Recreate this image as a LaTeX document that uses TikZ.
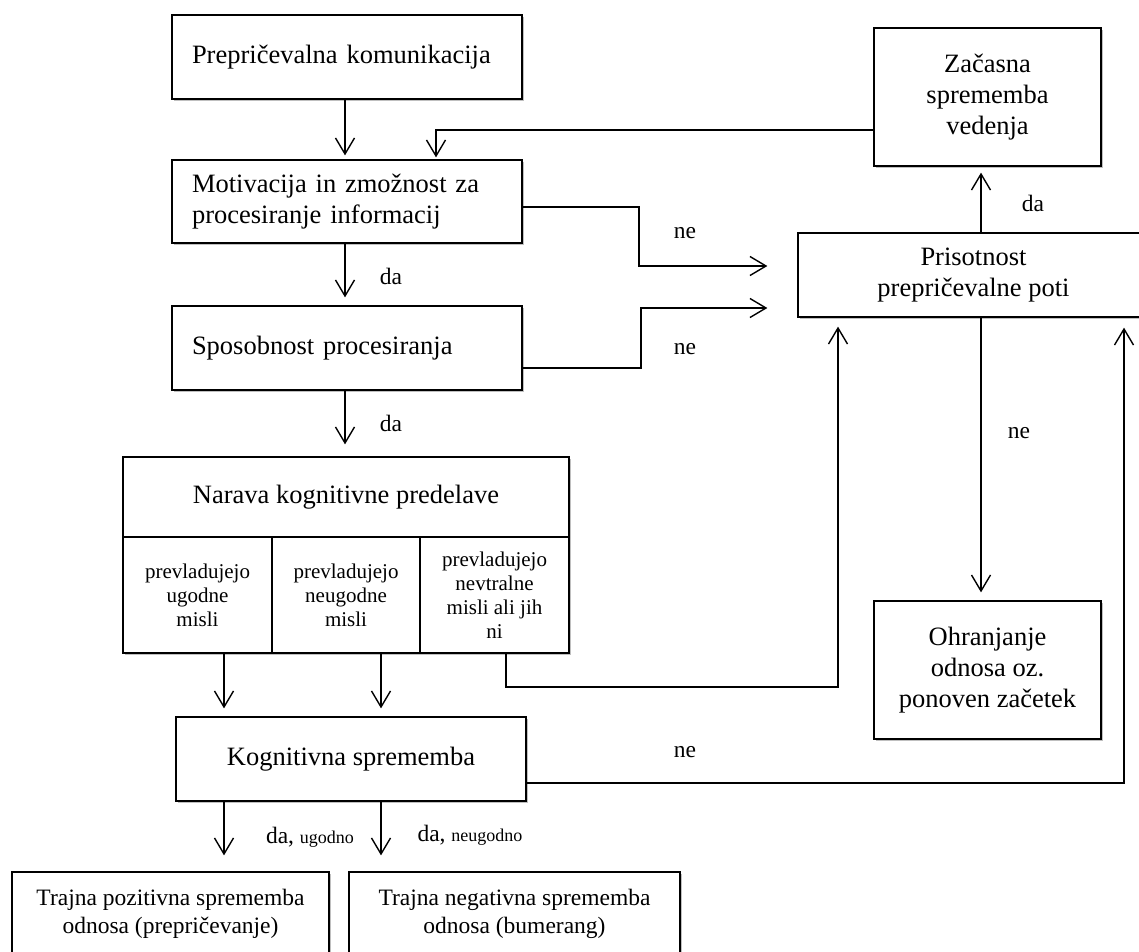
\documentclass[tikz,border=0pt]{standalone}
\usepackage{fontspec}
\setmainfont{Liberation Serif}
\usetikzlibrary{arrows.meta,shadows}
\begin{document}
\begin{tikzpicture}[x=1pt,y=-1pt,
  box/.style={draw, line width=1.3pt, fill=white, inner sep=0pt,
    drop shadow={shadow xshift=1.5pt, shadow yshift=-1.5pt, opacity=0.25, fill=black}},
  fmain/.style={font=\fontsize{26.5}{31}\selectfont},
  fbot/.style={font=\fontsize{23.5}{27.5}\selectfont},
  fcell/.style={font=\fontsize{21}{24}\selectfont},
  lbl/.style={font=\fontsize{23.5}{26}\selectfont, inner sep=0pt},
  leftbox/.style={box, fmain, align=left, text width=310pt, inner xsep=20pt, minimum width=350pt},
  arr/.style={line width=1.4pt, -{Straight Barb[length=16pt,width=19pt,line width=1.4pt]}},
  line/.style={line width=1.4pt}
]
\path[use as bounding box] (0,0) rectangle (1139,951);
\clip (0,0) rectangle (1139,951);

% left column boxes
\node[leftbox, minimum height=84pt] (b1) at (347,57) {Prepričevalna komunikacija};
\node[leftbox, minimum height=83pt] (b2) at (347,201.5) {Motivacija in zmožnost za\\procesiranje informacij};
\node[leftbox, minimum height=84pt] (b3) at (347,348) {Sposobnost procesiranja};

% Narava block
\node[box, fmain, minimum width=446pt, minimum height=80pt] (nar) at (346,497) {Narava kognitivne predelave};
\node[box, fcell, align=center, minimum width=149pt, minimum height=116pt] (c1) at (197.5,595) {prevladujejo\\ugodne\\misli};
\node[box, fcell, align=center, minimum width=148pt, minimum height=116pt] (c2) at (346,595) {prevladujejo\\neugodne\\misli};
\node[box, fcell, align=center, minimum width=149pt, minimum height=116pt] (c3) at (494.5,595) {prevladujejo\\nevtralne\\misli ali jih\\ni};

\node[box, fmain, minimum width=350pt, minimum height=84pt] (kog) at (351,759) {Kognitivna sprememba};

\node[box, fbot, align=center, minimum width=317pt, minimum height=84pt] (tp) at (170.5,914) {Trajna pozitivna sprememba\\odnosa (prepričevanje)};
\node[box, fbot, align=center, minimum width=331pt, minimum height=84pt] (tn) at (514.5,914) {Trajna negativna sprememba\\odnosa (bumerang)};

% right column
\node[box, fmain, align=center, minimum width=227pt, minimum height=138pt] (zac) at (987.5,97) {Začasna\\sprememba\\vedenja};
\node[box, fmain, align=center, minimum width=351pt, minimum height=84pt] (pris) at (973.5,275) {Prisotnost\\prepričevalne poti};
\node[box, fmain, align=center, minimum width=227pt, minimum height=138pt] (ohr) at (987.5,670) {Ohranjanje\\odnosa oz.\\ponoven začetek};

% helper coordinates
\coordinate (xa) at (345,0);
\coordinate (fb) at (436,130);
\coordinate (n1a) at (639,207);
\coordinate (n1b) at (639,266);
\coordinate (n2a) at (641,368);
\coordinate (n2b) at (641,308);
\coordinate (c3a) at (506,687);
\coordinate (pl) at (838,687);
\coordinate (kr) at (1124,783);
\coordinate (pz) at (981,0);
\coordinate (k1) at (224,0);
\coordinate (k2) at (381,0);

% connectors
\draw[arr, shorten >=4pt] (b1.south -| xa) -- (b2.north -| xa);
\draw[arr, shorten >=8pt] (b2.south -| xa) -- (b3.north -| xa);
\draw[arr, shorten >=12pt] (b3.south -| xa) -- (nar.north -| xa);
\draw[arr, shorten >=2pt] (zac.west |- fb) -- (fb) -- (b2.north -| fb);
\draw[arr, shorten >=30pt] (b2.east |- n1a) -- (n1a) -- (n1b) -- (pris.west |- n1b);
\draw[arr, shorten >=30pt] (b3.east |- n2a) -- (n2a) -- (n2b) -- (pris.west |- n2b);
\draw[arr, shorten >=9pt] (c3.south -| c3a) -- (c3a) -- (pl) -- (pris.south -| pl);
\draw[arr, shorten >=10pt] (kog.east |- kr) -- (kr) -- (pris.south -| kr);
\draw[arr, shorten >=6pt] (pris.north -| pz) -- (zac.south -| pz);
\draw[arr, shorten >=8pt] (pris.south -| pz) -- (ohr.north -| pz);
\draw[arr, shorten >=8pt] (c1.south -| k1) -- (kog.north -| k1);
\draw[arr, shorten >=8pt] (c2.south -| k2) -- (kog.north -| k2);
\draw[arr, shorten >=16pt] (kog.south -| k1) -- (tp.north -| k1);
\draw[arr, shorten >=16pt] (kog.south -| k2) -- (tn.north -| k2);

% labels
\node[lbl] (l1) at (391,276) {da};
\node[lbl] (l2) at (391,423) {da};
\node[lbl] (l3) at (685,233) {ne};
\node[lbl] (l4) at (685,349) {ne};
\node[lbl] (l5) at (1033,203) {da};
\node[lbl] (l6) at (1019,433) {ne};
\node[lbl] (l7) at (685,752) {ne};
\node[lbl] (l8) at (310,837) {da, {\fontsize{18}{20}\selectfont ugodno}};
\node[lbl] (l9) at (470,835) {da, {\fontsize{18}{20}\selectfont neugodno}};
\end{tikzpicture}
\end{document}
